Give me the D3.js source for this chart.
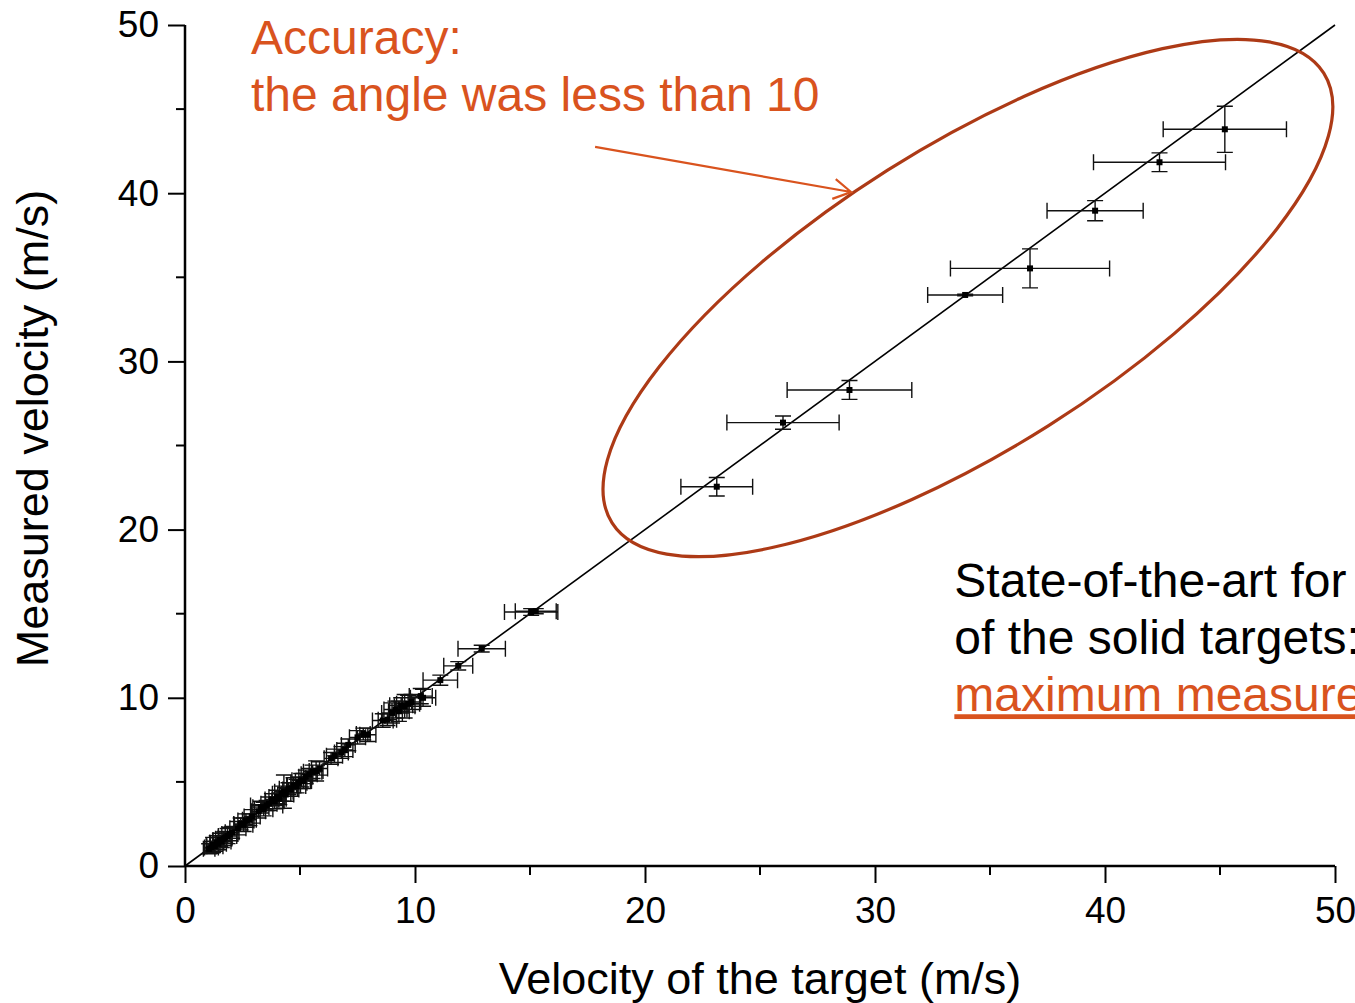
<!DOCTYPE html>
<html>
<head>
<meta charset="utf-8">
<script src="https://cdn.jsdelivr.net/npm/d3@7"></script>
<style>
  html, body { margin: 0; padding: 0; background: #fff; overflow: hidden; }
  svg { display: block; font-family: "Liberation Sans", Arial, sans-serif; }
</style>
</head>
<body>
<svg id="chart" width="1355" height="1003"></svg>
<script>
// Target velocity (m/s) set on the rig and the velocity measured for it, with errors
const targetVelocity = [
  1.05, 1.15, 1.22, 1.30, 1.38, 1.45, 1.52, 1.60, 1.68, 1.75, 1.85, 1.95, 2.05,
  2.30, 2.42, 2.55, 2.65, 2.80, 2.92, 3.20, 3.30, 3.42, 3.55, 3.65, 3.78, 3.90,
  4.00, 4.10, 4.20, 4.30, 4.38, 4.50, 4.60, 4.72, 4.85, 4.95, 5.05, 5.15, 5.25,
  5.40, 5.55, 5.70, 5.85, 6.35, 6.50, 6.80, 6.95, 7.10, 7.50, 7.75, 7.95, 8.60,
  8.80, 9.00, 9.15, 9.30, 9.40, 9.55, 9.70, 9.85, 10.25, 10.35, 11.10, 11.88,
  12.90, 15.05, 15.25,
  23.12, 26.00, 28.89, 33.92, 36.74, 39.57, 42.37, 45.21
];
const measuredVelocity = [
  1.02, 1.10, 1.25, 1.18, 1.40, 1.32, 1.55, 1.45, 1.62, 1.70, 1.78, 1.90, 2.00,
  2.25, 2.50, 2.45, 2.70, 2.75, 2.95, 3.25, 3.50, 3.38, 3.60, 3.70, 3.95, 3.85,
  4.10, 4.00, 4.30, 4.42, 4.25, 4.60, 4.55, 4.80, 4.75, 4.95, 5.10, 5.05, 5.30,
  5.45, 5.60, 5.65, 5.80, 6.40, 6.55, 6.75, 6.90, 7.20, 7.65, 7.85, 7.80, 8.65,
  8.70, 9.10, 9.30, 9.20, 9.55, 9.50, 9.65, 9.75, 10.10, 10.00, 11.05, 11.90,
  12.92, 15.10, 15.15,
  22.55, 26.36, 28.30, 33.95, 35.53, 38.96, 41.84, 43.80
];
const targetError = [
  0.25, 0.30, 0.30, 0.35, 0.30, 0.35, 0.30, 0.40, 0.35, 0.30, 0.40, 0.35, 0.30,
  0.35, 0.30, 0.40, 0.35, 0.30, 0.35, 0.30, 0.35, 0.40, 0.70, 0.35, 0.30, 0.40,
  0.35, 0.30, 0.40, 0.40, 0.35, 0.40, 0.35, 0.30, 0.40, 0.35, 0.40, 0.35, 0.30,
  0.35, 0.40, 0.30, 0.35, 0.30, 0.35, 0.30, 0.35, 0.30, 0.35, 0.30, 0.35, 0.45,
  0.40, 0.45, 0.50, 0.45, 0.50, 0.45, 0.50, 0.40, 0.50, 0.55, 0.75, 0.63,
  1.03, 1.16, 0.89,
  1.56, 2.44, 2.71, 1.63, 3.46, 2.09, 2.87, 2.68
];
const measuredError = [
  0.30, 0.35, 0.45, 0.30, 0.40, 0.35, 0.40, 0.35, 0.40, 0.35, 0.45, 0.40, 0.35,
  0.40, 0.35, 0.40, 0.40, 0.35, 0.40, 0.40, 0.35, 0.40, 0.30, 0.40, 0.35, 0.45,
  0.40, 0.35, 0.45, 0.99, 0.40, 0.35, 0.40, 0.45, 0.40, 0.35, 0.40, 0.45, 0.40,
  0.35, 0.40, 0.60, 0.40, 0.35, 0.40, 0.35, 0.40, 0.35, 0.40, 0.35, 0.40, 0.40,
  0.35, 0.60, 0.50, 0.60, 0.45, 0.70, 0.50, 0.45, 0.45, 0.50, 0.30, 0.25,
  0.20, 0.20, 0.15,
  0.55, 0.39, 0.56, 0.05, 1.16, 0.60, 0.56, 1.37
];

const xTicks = [0, 10, 20, 30, 40, 50];
const yTicks = [0, 10, 20, 30, 40, 50];
const xMinorTicks = [5, 15, 25, 35, 45];
const yMinorTicks = [5, 15, 25, 35, 45];

const accent = "#d9531e";
const ellipseColor = "#ad3a16";

const svg = d3.select("#chart");
const x = d3.scaleLinear().domain([0, 50]).range([185, 1335]);
const y = d3.scaleLinear().domain([0, 50]).range([866, 25]);

const points = targetVelocity.map((v, i) => ({
  x: v, y: measuredVelocity[i], xe: targetError[i], ye: measuredError[i]
}));

// ideal response: measured = target
svg.append("line")
  .attr("x1", x(0)).attr("y1", y(0))
  .attr("x2", x(50)).attr("y2", y(50))
  .attr("stroke", "#000").attr("stroke-width", 1.6);

// error bars
const cap = 8;
const eb = svg.append("g").attr("stroke", "#111").attr("stroke-width", 1.4).attr("fill", "none");
points.forEach(p => {
  const cx = x(p.x), cy = y(p.y);
  const x0 = x(p.x - p.xe), x1 = x(p.x + p.xe);
  const y0 = y(p.y - p.ye), y1 = y(p.y + p.ye);
  eb.append("path").attr("d",
    `M${x0},${cy}H${x1}` +
    `M${x0},${cy - cap}V${cy + cap}` +
    `M${x1},${cy - cap}V${cy + cap}` +
    `M${cx},${y0}V${y1}` +
    `M${cx - cap},${y0}H${cx + cap}` +
    `M${cx - cap},${y1}H${cx + cap}`);
});

// markers
svg.append("g").selectAll("rect").data(points).join("rect")
  .attr("x", d => x(d.x) - 3).attr("y", d => y(d.y) - 3)
  .attr("width", 6).attr("height", 6).attr("fill", "#000");

// axes
const xAxis = svg.append("g").attr("transform", `translate(0,${y(0)})`)
  .call(d3.axisBottom(x).tickValues(xTicks).tickSize(17).tickPadding(14).tickFormat(d3.format("d")));
xAxis.append("g").selectAll("line").data(xMinorTicks).join("line")
  .attr("x1", d => x(d)).attr("x2", d => x(d)).attr("y1", 0).attr("y2", 9)
  .attr("stroke", "#000").attr("stroke-width", 2);

const yAxis = svg.append("g").attr("transform", `translate(${x(0)},0)`)
  .call(d3.axisLeft(y).tickValues(yTicks).tickSize(17).tickPadding(9).tickFormat(d3.format("d")));
yAxis.append("g").selectAll("line").data(yMinorTicks).join("line")
  .attr("y1", d => y(d)).attr("y2", d => y(d)).attr("x1", 0).attr("x2", -9)
  .attr("stroke", "#000").attr("stroke-width", 2);

[xAxis, yAxis].forEach(g => {
  g.select(".domain").attr("stroke", "#000").attr("stroke-width", 2.5);
  g.selectAll(".tick line").attr("stroke", "#000").attr("stroke-width", 2);
  g.selectAll(".tick text").attr("fill", "#000")
    .style("font-size", "37px").style("font-family", "'Liberation Sans', Arial, sans-serif");
});
xAxis.select(".domain").attr("d", `M${x(0)},0H${x(50)}`);
yAxis.select(".domain").attr("d", `M0,${y(0)}V${y(50)}`);

// axis titles
svg.append("text")
  .attr("x", (x(0) + x(50)) / 2).attr("y", 994)
  .attr("text-anchor", "middle").attr("font-size", 45).attr("fill", "#000")
  .text("Velocity of the target (m/s)");
svg.append("text")
  .attr("transform", `translate(48,${(y(0) + y(50)) / 2 - 17}) rotate(-90)`)
  .attr("text-anchor", "middle").attr("font-size", 45).attr("fill", "#000")
  .text("Measured velocity (m/s)");

// ellipse around the high-velocity runs
const ellipseCenter = [34.04, 33.77];
svg.append("ellipse")
  .attr("transform", `translate(${x(ellipseCenter[0])},${y(ellipseCenter[1])}) rotate(-32.3)`)
  .attr("rx", 421).attr("ry", 151)
  .attr("fill", "none").attr("stroke", ellipseColor).attr("stroke-width", 3.2);

// arrow pointing to the ellipse
const arrowFrom = [17.83, 42.75], arrowTo = [28.96, 40.07];
const ax0 = x(arrowFrom[0]), ay0 = y(arrowFrom[1]);
const ax1 = x(arrowTo[0]), ay1 = y(arrowTo[1]);
const ang = Math.atan2(ay1 - ay0, ax1 - ax0);
const head = 20, spread = Math.PI / 6;
svg.append("path")
  .attr("d",
    `M${ax0},${ay0}L${ax1},${ay1}` +
    `M${ax1 - head * Math.cos(ang - spread)},${ay1 - head * Math.sin(ang - spread)}` +
    `L${ax1},${ay1}` +
    `L${ax1 - head * Math.cos(ang + spread)},${ay1 - head * Math.sin(ang + spread)}`)
  .attr("fill", "none").attr("stroke", accent).attr("stroke-width", 2.2);

// annotations
const note = svg.append("text").attr("font-size", 48).attr("fill", accent);
note.append("tspan").attr("x", x(2.87)).attr("y", y(48.3)).text("Accuracy:");
note.append("tspan").attr("x", x(2.87)).attr("y", y(44.9)).text("the angle was less than 10");

const side = svg.append("text").attr("font-size", 48).attr("fill", "#000");
side.append("tspan").attr("x", x(33.45)).attr("y", y(16.0)).text("State-of-the-art for");
side.append("tspan").attr("x", x(33.45)).attr("y", y(12.6)).text("of the solid targets:");
side.append("tspan").attr("x", x(33.45)).attr("y", y(9.2)).attr("fill", accent)
  .attr("text-decoration", "underline").text("maximum measured");
</script>
</body>
</html>
